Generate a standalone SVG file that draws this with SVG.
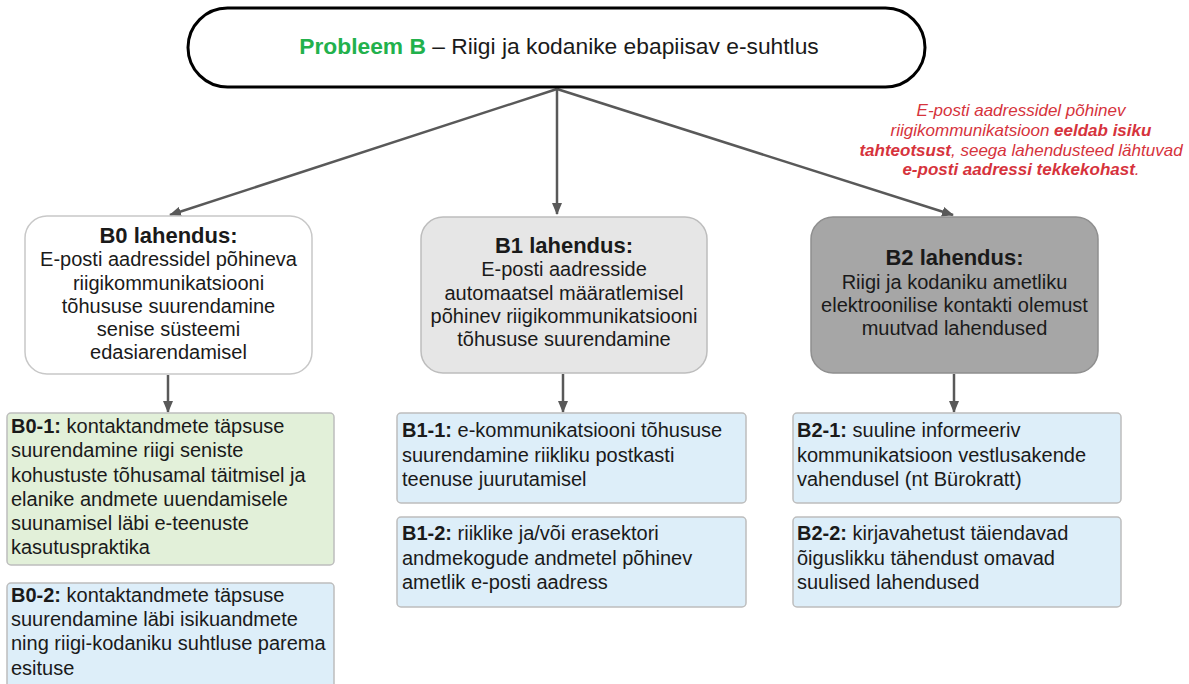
<svg xmlns="http://www.w3.org/2000/svg" width="1189" height="684" viewBox="0 0 1189 684">
<defs>
<marker id="ah" viewBox="0 0 12 10" refX="11" refY="5" markerWidth="12" markerHeight="10" markerUnits="userSpaceOnUse" orient="auto">
<path d="M0,0 L12,5 L0,10 z" fill="#595959"/>
</marker>
<style>
text{font-family:"Liberation Sans",Arial,sans-serif;fill:#1a1a1a}
.h{font-size:22px;font-weight:bold;text-anchor:middle}
.b{font-size:20px;text-anchor:middle}
.s{font-size:20px}
.bold{font-weight:bold}
.sub{stroke:#bdbdbd;stroke-width:1.5}
.conn{stroke:#595959;stroke-width:2.5;fill:none;marker-end:url(#ah)}
.note{font-size:17px;font-style:italic;fill:#d6333c;text-anchor:middle}
</style>
</defs>
<rect width="1189" height="684" fill="#ffffff"/>

<g id="connectors">
<line class="conn" x1="557" y1="89" x2="170" y2="215"/>
<line class="conn" x1="557" y1="89" x2="557" y2="214"/>
<line class="conn" x1="557" y1="89" x2="953" y2="215"/>
<line class="conn" x1="168" y1="375" x2="168" y2="412"/>
<line class="conn" x1="563" y1="374" x2="563" y2="412"/>
<line class="conn" x1="954" y1="374" x2="954" y2="412"/>
</g>

<g id="problem">
<rect x="188" y="8" width="737" height="79" rx="39.5" fill="#ffffff" stroke="#000000" stroke-width="3"/>
<text x="559" y="54" style="font-size:22.8px;text-anchor:middle"><tspan font-weight="bold" style="fill:#22b14c">Probleem B</tspan> – Riigi ja kodanike ebapiisav e-suhtlus</text>
</g>

<g id="note">
<text class="note" x="1021" y="116">E-posti aadressidel põhinev</text>
<text class="note" x="1021" y="136">riigikommunikatsioon <tspan class="bold" style="fill:#d6333c">eeldab isiku</tspan></text>
<text class="note" x="1021" y="156"><tspan class="bold" style="fill:#d6333c">tahteotsust</tspan>, seega lahendusteed lähtuvad</text>
<text class="note" x="1021" y="175"><tspan class="bold" style="fill:#d6333c">e-posti aadressi tekkekohast</tspan>.</text>
</g>

<g id="B0">
<rect x="25" y="216" width="287" height="158" rx="22" fill="#ffffff" stroke="#c8c8c8" stroke-width="1.5"/>
<text class="h" x="168.5" y="243">B0 lahendus:</text>
<text class="b" x="168.5" y="266">E-posti aadressidel põhineva</text>
<text class="b" x="168.5" y="290">riigikommunikatsiooni</text>
<text class="b" x="168.5" y="313">tõhususe suurendamine</text>
<text class="b" x="168.5" y="336">senise süsteemi</text>
<text class="b" x="168.5" y="359">edasiarendamisel</text>
</g>

<g id="B1">
<rect x="421" y="217" width="286" height="156" rx="22" fill="#e6e6e6" stroke="#bdbdbd" stroke-width="1.5"/>
<text class="h" x="564" y="253">B1 lahendus:</text>
<text class="b" x="564" y="276">E-posti aadresside</text>
<text class="b" x="564" y="300">automaatsel määratlemisel</text>
<text class="b" x="564" y="323">põhinev riigikommunikatsiooni</text>
<text class="b" x="564" y="346">tõhususe suurendamine</text>
</g>

<g id="B2">
<rect x="811" y="217" width="287" height="156" rx="22" fill="#a6a6a6" stroke="#8f8f8f" stroke-width="1.5"/>
<text class="h" x="954.5" y="265">B2 lahendus:</text>
<text class="b" x="954.5" y="289">Riigi ja kodaniku ametliku</text>
<text class="b" x="954.5" y="312">elektroonilise kontakti olemust</text>
<text class="b" x="954.5" y="335">muutvad lahendused</text>
</g>

<g id="B0-1">
<rect class="sub" x="7" y="413" width="327" height="152" rx="4" fill="#e2f0d9"/>
<text class="s" x="11" y="433"><tspan class="bold">B0-1:</tspan> kontaktandmete täpsuse</text>
<text class="s" x="11" y="457">suurendamine riigi seniste</text>
<text class="s" x="11" y="482">kohustuste tõhusamal täitmisel ja</text>
<text class="s" x="11" y="506">elanike andmete uuendamisele</text>
<text class="s" x="11" y="530">suunamisel läbi e-teenuste</text>
<text class="s" x="11" y="554">kasutuspraktika</text>
</g>

<g id="B0-2">
<rect class="sub" x="7" y="583" width="327" height="110" rx="4" fill="#ddeef9"/>
<text class="s" x="11" y="602"><tspan class="bold">B0-2:</tspan> kontaktandmete täpsuse</text>
<text class="s" x="11" y="626">suurendamine läbi isikuandmete</text>
<text class="s" x="11" y="650">ning riigi-kodaniku suhtluse parema</text>
<text class="s" x="11" y="675">esituse</text>
</g>

<g id="B1-1">
<rect class="sub" x="397" y="413" width="349" height="90" rx="4" fill="#ddeef9"/>
<text class="s" x="402" y="437"><tspan class="bold">B1-1:</tspan> e-kommunikatsiooni tõhususe</text>
<text class="s" x="402" y="462">suurendamine riikliku postkasti</text>
<text class="s" x="402" y="486">teenuse juurutamisel</text>
</g>

<g id="B1-2">
<rect class="sub" x="397" y="517" width="349" height="90" rx="4" fill="#ddeef9"/>
<text class="s" x="402" y="540"><tspan class="bold">B1-2:</tspan> riiklike ja/või erasektori</text>
<text class="s" x="402" y="565">andmekogude andmetel põhinev</text>
<text class="s" x="402" y="589">ametlik e-posti aadress</text>
</g>

<g id="B2-1">
<rect class="sub" x="793" y="413" width="328" height="90" rx="4" fill="#ddeef9"/>
<text class="s" x="797" y="437"><tspan class="bold">B2-1:</tspan> suuline informeeriv</text>
<text class="s" x="797" y="462">kommunikatsioon vestlusakende</text>
<text class="s" x="797" y="486">vahendusel (nt Bürokratt)</text>
</g>

<g id="B2-2">
<rect class="sub" x="793" y="517" width="328" height="90" rx="4" fill="#ddeef9"/>
<text class="s" x="797" y="540"><tspan class="bold">B2-2:</tspan> kirjavahetust täiendavad</text>
<text class="s" x="797" y="565">õiguslikku tähendust omavad</text>
<text class="s" x="797" y="589">suulised lahendused</text>
</g>
</svg>
